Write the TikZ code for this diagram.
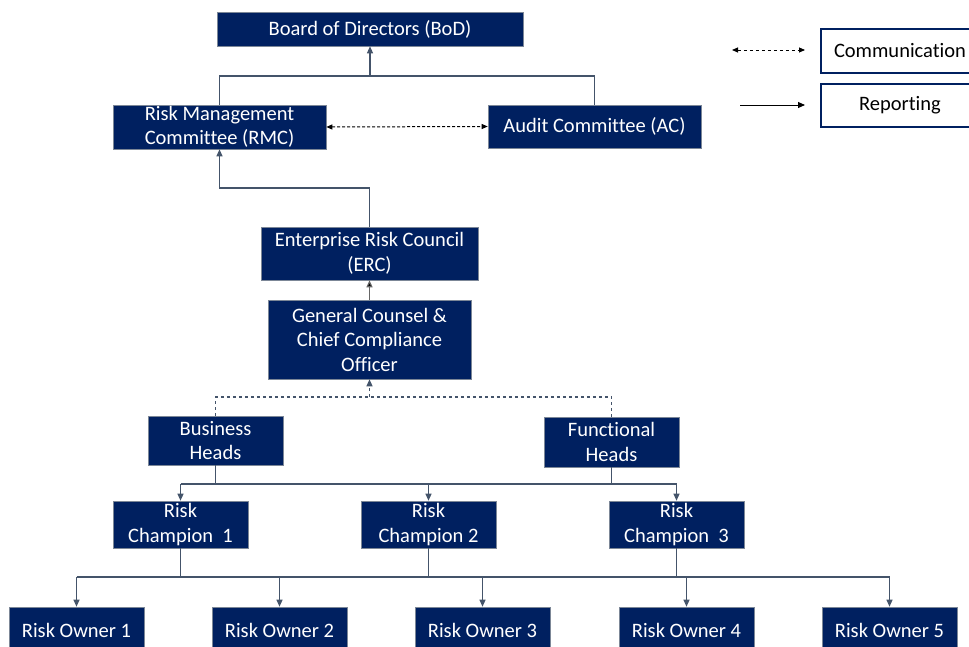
\documentclass[tikz,border=0pt]{standalone}
\usepackage{fontspec}
\setmainfont{Carlito}[Ligatures=CommonOff]
\usetikzlibrary{arrows.meta}
\definecolor{boxblue}{RGB}{0,32,96}
\definecolor{linegray}{RGB}{68,84,106}
\tikzset{
  orgbox/.style={fill=boxblue, draw=linegray!70, line width=0.6pt, text=white,
    align=center, inner sep=0pt, font=\fontsize{20.5}{24.5}\selectfont},
  keybox/.style={fill=white, draw=boxblue, line width=1.3pt, align=center,
    inner sep=0pt, font=\fontsize{20.5}{24.5}\selectfont},
  link/.style={draw=linegray, line width=1.1pt},
  tip/.style={-{Triangle[length=7pt,width=6pt]}},
  bitip/.style={{Triangle[length=6pt,width=5pt]}-{Triangle[length=6pt,width=5pt]}},
}

\begin{document}
\begin{tikzpicture}[x=1pt,y=1pt,yscale=-1,xscale=1]
\useasboundingbox (0,0) rectangle (969,647);

% top level
\node[orgbox, minimum width=306pt, minimum height=34pt] (bod) at (370,29) {Board of Directors (BoD)};
\node[orgbox, minimum width=213pt, minimum height=44pt] (rmc) at (219.5,127) {Risk Management\\Committee (RMC)};
\node[orgbox, minimum width=213pt, minimum height=43pt] (ac) at (594.5,126.5) {Audit Committee (AC)};

% council and counsel
\node[orgbox, minimum width=217pt, minimum height=53pt] (erc) at (369.5,253.5) {Enterprise Risk Council\\(ERC)};
\node[orgbox, minimum width=203pt, minimum height=79pt] (gc) at (369.5,339.5) {General Counsel \&\\Chief Compliance\\Officer};

% heads
\node[orgbox, minimum width=135pt, minimum height=49pt] (bh) at (215.5,440.5) {Business\\Heads};
\node[orgbox, minimum width=135pt, minimum height=50pt] (fh) at (611.5,442) {Functional\\Heads};

% champions
\node[orgbox, minimum width=135pt, minimum height=47pt] (rc1) at (180.5,524.5) {Risk\\Champion\ \ 1};
\node[orgbox, minimum width=135pt, minimum height=47pt] (rc2) at (428.5,524.5) {Risk\\Champion 2};
\node[orgbox, minimum width=135pt, minimum height=47pt] (rc3) at (676.5,524.5) {Risk\\Champion\ \ 3};

% owners
\node[orgbox, minimum width=135pt, minimum height=46pt] (ro1) at (76.5,630) {Risk Owner 1};
\node[orgbox, minimum width=135pt, minimum height=46pt] (ro2) at (279.5,630) {Risk Owner 2};
\node[orgbox, minimum width=135pt, minimum height=46pt] (ro3) at (482.5,630) {Risk Owner 3};
\node[orgbox, minimum width=135pt, minimum height=46pt] (ro4) at (686.5,630) {Risk Owner 4};
\node[orgbox, minimum width=135pt, minimum height=46pt] (ro5) at (889.5,630) {Risk Owner 5};

% legend
\node[keybox, minimum width=158pt, minimum height=44pt] (kcomm) at (900,51) {Communication};
\node[keybox, minimum width=158pt, minimum height=43pt] (krep) at (900,105.5) {Reporting};
\coordinate (kc1) at (732,50);
\coordinate (kc2) at (805,50);
\coordinate (kr1) at (740,105);
\coordinate (kr2) at (805,105);
\draw[black, line width=0.9pt, dashed, bitip] (kc1) -- (kc2);
\draw[black, line width=0.9pt, tip] (kr1) -- (kr2);

% committees to board
\coordinate (topjoin) at (370,76);
\draw[link] (rmc.north) -- (rmc.north |- topjoin) -- (ac.north |- topjoin) -- (ac.north);
\draw[link, tip] (topjoin) -- (bod.south);
\draw[black, line width=1pt, dash pattern=on 3pt off 2pt, bitip] (rmc.east) -- (ac.west);

% council to rmc
\coordinate (ercjoin) at (369.5,188);
\draw[link, tip] (erc.north) -- (ercjoin) -- (rmc.south |- ercjoin) -- (rmc.south);
\draw[gray!80!black, line width=1.1pt, -{Triangle[length=7pt,width=6pt,fill=black]}] (gc.north) -- (erc.south);

% heads to counsel
\coordinate (headjoin) at (369.5,397);
\draw[link, dashed] (bh.north) -- (bh.north |- headjoin) -- (fh.north |- headjoin) -- (fh.north);
\draw[link, dashed, tip] (headjoin) -- (gc.south);

% heads to champions
\coordinate (champjoin) at (428.5,484);
\draw[link] (bh.south) -- (bh.south |- champjoin);
\draw[link] (fh.south) -- (fh.south |- champjoin);
\draw[link] (rc1.north |- champjoin) -- (rc3.north |- champjoin);
\foreach \c in {rc1,rc2,rc3}
  \draw[link, tip] (\c.north |- champjoin) -- (\c.north);

% champions to owners
\coordinate (ownjoin) at (482.5,577);
\foreach \c in {rc1,rc2,rc3}
  \draw[link] (\c.south) -- (\c.south |- ownjoin);
\draw[link] (ro1.north |- ownjoin) -- (ro5.north |- ownjoin);
\foreach \o in {ro1,ro2,ro3,ro4,ro5}
  \draw[link, tip] (\o.north |- ownjoin) -- (\o.north);

\end{tikzpicture}
\end{document}
